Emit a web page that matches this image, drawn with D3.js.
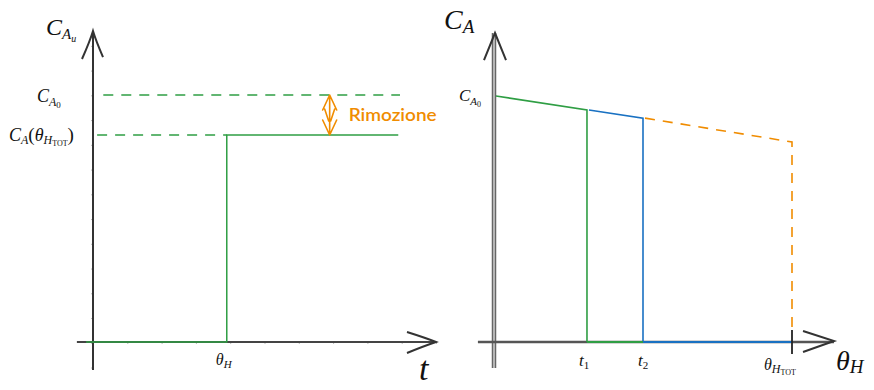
<!DOCTYPE html>
<html lang="it">
<head>
<meta charset="utf-8">
<title>Rimozione</title>
<script src="https://cdn.jsdelivr.net/npm/d3@7"></script>
<style>
  html, body { margin: 0; padding: 0; background: #fff; }
  svg { display: block; }
  .m { font-family: "Liberation Serif", "DejaVu Serif", serif; fill: #111; }
</style>
</head>
<body>
<svg id="paper" width="874" height="390"></svg>
<script>
// ---- data (arbitrary units) ----
// left chart: outlet concentration vs t, step at theta_H
var leftT      = [-2, 39, 39, 89];          // step path, t
var leftC      = [0, 0, 0.838, 0.838];      // step path, C_A_u / C_A0
var refLevels  = [1, 0.838];                // dashed C_A0 and C_A(theta_Htot)
var refStart   = [3, 1.2];
var refEnd     = [89.5, 39];
var removalAt  = 69;                         // position of the "Rimozione" arrow

// right chart: C_A vs theta_H, piecewise segments
var rightT     = [0, 0.312, 0.5, 1];        // 0, t1, t2, theta_Htot
var rightC     = [1, 0.943, 0.91, 0.813];

var green = "#2f9e44", blue = "#1971c2", orange = "#f08c00";

var svg = d3.select("#paper");

// scales
var xL = d3.scaleLinear().domain([0, 100]).range([93, 436]);
var yL = d3.scaleLinear().domain([0, 1]).range([342, 95]);
var xR = d3.scaleLinear().domain([0, 1]).range([494, 792]);
var yR = d3.scaleLinear().domain([0, 1]).range([342, 96]);

var line = d3.line();

// little helper for math-like labels with subscripts
function mathLabel(x, y, parts) {
  var t = svg.append("text").attr("class", "m").attr("x", x).attr("y", y);
  parts.forEach(function(p) {
    t.append("tspan")
      .attr("font-size", p[1])
      .attr("dy", p[2])
      .attr("font-style", p[3] ? "italic" : "normal")
      .text(p[0]);
  });
  return t;
}

// ---------- LEFT CHART ----------
// faint ticks
svg.append("g").attr("transform", "translate(" + xL(0) + ",0)")
  .call(d3.axisLeft(yL.copy().domain([-0.11, 1.26]).range([370, 31])).ticks(14).tickSize(2).tickFormat(""))
  .call(function(g){ g.select(".domain").remove(); g.selectAll("line").attr("stroke", "#bbb"); });
svg.append("g").attr("transform", "translate(0," + yL(0) + ")")
  .call(d3.axisBottom(xL).ticks(12).tickSize(2).tickFormat(""))
  .call(function(g){ g.select(".domain").remove(); g.selectAll("line").attr("stroke", "#bbb"); });

// axes
svg.append("path").attr("d", line([[xL(0), yL(-0.113)], [xL(0), yL(1.259)]]))
  .attr("stroke", "#333").attr("stroke-width", 2).attr("fill", "none");
svg.append("path").attr("d", "M" + (xL(0) - 11) + "," + (yL(1.259) + 28) +
    " Q" + (xL(0) - 3) + "," + (yL(1.259) + 10) + " " + xL(0) + "," + yL(1.259) +
    " Q" + (xL(0) + 3) + "," + (yL(1.259) + 10) + " " + (xL(0) + 10) + "," + (yL(1.259) + 26))
  .attr("stroke", "#333").attr("stroke-width", 2).attr("fill", "none");
svg.append("path").attr("d", line([[xL(-4.7), yL(0)], [xL(100), yL(0)]]))
  .attr("stroke", "#444").attr("stroke-width", 2).attr("fill", "none");
svg.append("path").attr("d", "M" + (xL(100) - 29) + "," + (yL(0) - 10) +
    " Q" + (xL(100) - 10) + "," + (yL(0) - 4) + " " + xL(100) + "," + yL(0) +
    " Q" + (xL(100) - 12) + "," + (yL(0) + 4) + " " + (xL(100) - 29) + "," + (yL(0) + 11))
  .attr("stroke", "#333").attr("stroke-width", 2).attr("fill", "none");

// dashed reference levels
svg.selectAll(".ref").data(refLevels).enter().append("path")
  .attr("class", "ref")
  .attr("d", function(d, i) { return line([[xL(refStart[i]), yL(d)], [xL(refEnd[i]), yL(d)]]); })
  .attr("stroke", green).attr("stroke-width", 1.4).attr("stroke-dasharray", "10,8")
  .attr("fill", "none");

// step response
svg.append("path")
  .attr("d", line(leftT.map(function(t, i) { return [xL(t), yL(leftC[i])]; })))
  .attr("stroke", green).attr("stroke-width", 1.5).attr("fill", "none");

// removal arrow
var ax = xL(removalAt), a0 = yL(refLevels[0]), a1 = yL(refLevels[1]);
svg.append("path")
  .attr("d", "M" + ax + "," + a0 + " L" + ax + "," + a1 +
    " M" + (ax - 7) + "," + (a0 + 15) + " L" + ax + "," + a0 + " L" + (ax + 7) + "," + (a0 + 15) +
    " M" + (ax - 7) + "," + (a1 - 15) + " L" + ax + "," + a1 + " L" + (ax + 7) + "," + (a1 - 15) +
    " M" + (ax - 5) + "," + (a0 + 14) + " L" + (ax - 1) + "," + (a1 - 14) +
    " M" + (ax + 5) + "," + (a0 + 14) + " L" + (ax + 1) + "," + (a1 - 14))
  .attr("stroke", orange).attr("stroke-width", 1.6).attr("fill", "none")
  .attr("stroke-linecap", "round").attr("stroke-linejoin", "round");
svg.append("text").attr("x", ax + 19).attr("y", (a0 + a1) / 2 + 6)
  .attr("font-family", "Lato, 'Noto Sans', sans-serif").attr("font-weight", 600)
  .attr("font-size", 17).attr("fill", orange)
  .attr("textLength", 88).attr("lengthAdjust", "spacingAndGlyphs")
  .text("Rimozione");

// labels
mathLabel(46, 35, [["C", 24, 0, true], ["A", 15, 4, true], ["u", 10, 3, true]]);
mathLabel(37, 102, [["C", 18, 0, true], ["A", 12, 4, true], ["0", 9, 2, false]]);
mathLabel(9, 141, [["C", 18, 0, true], ["A", 12, 3, true], ["(", 19, -3, false],
  ["θ", 18, 0, true], ["H", 12, 3, true], ["TOT", 8, 2, false], [")", 19, -5, false]]);
mathLabel(xL(39) - 11, 365, [["θ", 16, 0, true], ["H", 11, 3, true]]);
mathLabel(419, 380, [["t", 34, 0, true]]);

// ---------- RIGHT CHART ----------
svg.append("g").attr("transform", "translate(" + xR(0) + ",0)")
  .call(d3.axisLeft(yR.copy().domain([-0.106, 1.256]).range([368, 33])).ticks(14).tickSize(2).tickFormat(""))
  .call(function(g){ g.select(".domain").remove(); g.selectAll("line").attr("stroke", "#999"); });

// axes
svg.append("path").attr("d", line([[xR(0), yR(-0.106)], [xR(0), yR(1.256)]]))
  .attr("stroke", "#666").attr("stroke-width", 4.5).attr("fill", "none");
svg.append("path").attr("d", line([[xR(0), yR(-0.106)], [xR(0), yR(1.256)]]))
  .attr("stroke", "#b5b5b5").attr("stroke-width", 2).attr("fill", "none");
svg.append("path").attr("d", "M" + (xR(0) - 10) + "," + (yR(1.256) + 27) +
    " L" + (xR(0) + 1) + "," + yR(1.256) + " L" + (xR(0) + 12) + "," + (yR(1.256) + 27))
  .attr("stroke", "#333").attr("stroke-width", 2).attr("fill", "none");
svg.append("path").attr("d", line([[xR(-0.054), yR(0)], [xR(1.141), yR(0)]]))
  .attr("stroke", "#555").attr("stroke-width", 2.6).attr("fill", "none");
svg.append("path").attr("d", "M" + (xR(1.141) - 31) + "," + (yR(0) - 11) +
    " L" + xR(1.141) + "," + (yR(0) - 1) + " L" + (xR(1.141) - 31) + "," + (yR(0) + 10))
  .attr("stroke", "#333").attr("stroke-width", 2).attr("fill", "none");

// segments: green (0..t1), blue (t1..t2), orange dashed (t2..tot)
var segColors = [green, blue];
[0, 1].forEach(function(i) {
  svg.append("path")
    .attr("d", line([[xR(rightT[i]) + 2, yR(rightC[i])], [xR(rightT[i + 1]), yR(rightC[i + 1])],
      [xR(rightT[i + 1]), yR(0)]]))
    .attr("stroke", segColors[i]).attr("stroke-width", 1.6).attr("fill", "none");
});
svg.append("path").attr("d", line([[xR(rightT[1]), yR(0)], [xR(rightT[2]), yR(0)]]))
  .attr("stroke", green).attr("stroke-width", 2).attr("fill", "none");
svg.append("path").attr("d", line([[xR(rightT[2]), yR(0)], [xR(rightT[3]), yR(0)]]))
  .attr("stroke", blue).attr("stroke-width", 2.2).attr("fill", "none");
svg.append("path")
  .attr("d", line([[xR(rightT[2]) + 2, yR(rightC[2])], [xR(rightT[3]), yR(rightC[3])], [xR(rightT[3]), yR(0) - 12]]))
  .attr("stroke", orange).attr("stroke-width", 1.6).attr("stroke-dasharray", "10,8").attr("fill", "none");
svg.append("path").attr("d", line([[xR(1), yR(0) - 12], [xR(1), yR(0) + 12]]))
  .attr("stroke", "#222").attr("stroke-width", 1.8);

// labels
mathLabel(444, 29, [["C", 28, 0, true], ["A", 19, 4, true]]);
mathLabel(459, 101, [["C", 17, 0, true], ["A", 11, 4, true], ["0", 8, 2, false]]);
mathLabel(xR(rightT[1]) - 8, 366, [["t", 17, 0, true], ["1", 11, 3, false]]);
mathLabel(xR(rightT[2]) - 5, 366, [["t", 17, 0, true], ["2", 11, 3, false]]);
mathLabel(xR(1) - 28, 370, [["θ", 16, 0, true], ["H", 12, 3, true], ["TOT", 8, 2, false]]);
mathLabel(836, 370, [["θ", 28, 0, true], ["H", 19, 3, true]]);
</script>
</body>
</html>
